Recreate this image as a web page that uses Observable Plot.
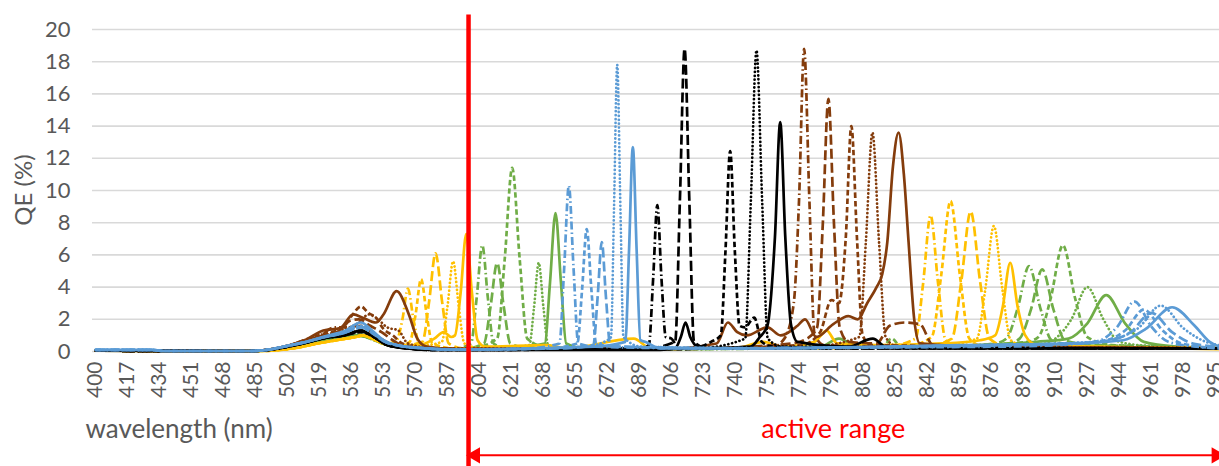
<!DOCTYPE html>
<html><head><meta charset="utf-8">
<script src="https://cdn.jsdelivr.net/npm/d3@7"></script>
<script src="https://cdn.jsdelivr.net/npm/@observablehq/plot@0.6"></script>
<style>
body{margin:0;background:#fff;}
#wrap{position:relative;width:1219px;height:466px;overflow:hidden;}
#ylabel{position:absolute;left:23px;top:190px;transform:translate(-50%,-50%) rotate(-90deg);font-family:Lato,'Open Sans',sans-serif;font-size:24px;color:#595959;white-space:nowrap;line-height:1;}
</style></head><body><div id="wrap"><div id="chart"></div><div id="ylabel">QE (%)</div></div>
<script>
// wavelength (nm), QE (%) pairs
const greenDashDot = [[400,0.05],[482,0.03],[495,0.1],[505,0.3],[515,0.55],[525,0.75],[535,0.9],[541,1.0],[548,0.75],[555,0.4],[565,0.25],[580,0.15],[590,0.15],[599.5,0.5],[602.5,3.3],[605.5,6.6],[608.5,3.3],[611.5,0.5],[618,0.2],[660,0.2],[720,0.15],[800,0.25],[850,0.3],[878,0.5],[884,0.8],[890,2.7],[896,5.3],[902,2.7],[908,0.7],[920,0.4],[960,0.3],[997,0.2]];
const greenLongDash = [[400,0.05],[482,0.03],[495,0.1],[505,0.28],[515,0.5],[525,0.7],[535,0.85],[541,0.95],[548,0.7],[555,0.4],[565,0.25],[580,0.15],[595,0.15],[606.4,0.5],[609.9,2.8],[613.4,5.5],[616.9,2.8],[620.4,0.5],[630,0.2],[700,0.15],[800,0.3],[860,0.35],[885,0.5],[891,0.8],[897,2.6],[903,5.1],[909,2.6],[915,0.7],[930,0.4],[970,0.3],[997,0.2]];
const greenDash = [[400,0.05],[482,0.03],[495,0.1],[505,0.3],[515,0.55],[525,0.75],[535,0.9],[541,1.0],[548,0.75],[555,0.4],[565,0.25],[580,0.15],[600,0.2],[613.4,0.8],[617.4,5.7],[621.4,11.4],[625.4,5.7],[629.4,0.8],[640,0.25],[700,0.15],[800,0.3],[818,0.3],[823,0.8],[828,0.3],[870,0.4],[895,0.6],[901,0.9],[907.5,3.3],[914,6.6],[920.5,3.3],[927,0.9],[940,0.4],[997,0.25]];
const greenDot = [[400,0.05],[482,0.03],[495,0.1],[505,0.3],[515,0.5],[525,0.7],[535,0.85],[541,0.95],[548,0.7],[555,0.4],[565,0.25],[580,0.15],[615,0.2],[630.5,0.4],[633,2.75],[635.5,5.5],[638,2.75],[640.5,0.4],[650,0.2],[720,0.15],[800,0.3],[880,0.4],[905,0.5],[910,0.8],[918.5,2.0],[927,4.0],[935.5,2.0],[944,0.6],[960,0.35],[997,0.25]];
const greenSolid = [[400,0.05],[482,0.03],[495,0.1],[505,0.3],[515,0.55],[525,0.8],[535,0.95],[541,1.05],[548,0.8],[555,0.45],[565,0.25],[580,0.15],[625,0.3],[638.7,0.5],[641.5,4.3],[644.4,8.6],[647.3,4.3],[650.1,0.5],[660,0.2],[720,0.2],[785,0.3],[795,0.8],[805,0.3],[870,0.4],[900,0.6],[917,0.8],[927,1.75],[937,3.5],[947,1.75],[957,0.6],[975,0.3],[997,0.2]];

const blueDashDot = [[400,0.1],[430,0.1],[436,0.03],[482,0.03],[492,0.12],[502,0.35],[512,0.6],[522,0.9],[532,1.15],[541,1.5],[547,1.15],[553,0.65],[562,0.35],[575,0.2],[590,0.12],[630,0.2],[646.5,0.5],[649,5.15],[651.5,10.3],[654,5.15],[656.5,0.5],[665,0.3],[720,0.2],[800,0.25],[880,0.3],[925,0.5],[934,0.7],[943,1.55],[952,3.1],[961,1.55],[970,0.6],[985,0.3],[997,0.2]];
const blueDash = [[400,0.1],[430,0.1],[436,0.03],[482,0.03],[492,0.12],[502,0.35],[512,0.6],[522,0.9],[532,1.15],[541,1.5],[547,1.15],[553,0.65],[562,0.35],[575,0.2],[590,0.12],[640,0.2],[656,0.5],[658.5,3.8],[661,7.6],[663.5,3.8],[666,0.5],[675,0.3],[740,0.2],[850,0.3],[920,0.5],[937,0.7],[947,1.3],[957,2.6],[967,1.3],[977,0.5],[997,0.2]];
const blueLongDash = [[400,0.1],[430,0.1],[436,0.03],[482,0.03],[492,0.12],[502,0.35],[512,0.6],[522,0.9],[532,1.15],[541,1.55],[547,1.2],[553,0.65],[562,0.35],[575,0.2],[590,0.12],[650,0.2],[664.5,0.4],[666.8,3.4],[669,6.8],[671.2,3.4],[673.5,0.4],[680,0.3],[750,0.2],[850,0.35],[920,0.5],[939,0.7],[950,1.2],[961,2.4],[972,1.2],[983,0.5],[997,0.3]];
const blueDot = [[400,0.1],[430,0.1],[436,0.03],[482,0.03],[492,0.12],[502,0.35],[512,0.6],[522,0.92],[532,1.2],[541,1.6],[547,1.2],[553,0.7],[562,0.35],[575,0.2],[590,0.12],[660,0.3],[672,0.7],[673.9,0.9],[675.5,8.9],[677.2,17.8],[678.9,8.9],[680.5,0.9],[690,0.3],[760,0.2],[860,0.35],[930,0.6],[942,0.8],[954,1.45],[966,2.85],[978,1.45],[990,0.6],[997,0.4]];
const blueSolid = [[400,0.1],[430,0.1],[436,0.03],[482,0.03],[492,0.12],[502,0.35],[512,0.6],[522,0.95],[532,1.25],[541,1.8],[547,1.3],[553,0.7],[562,0.35],[575,0.2],[590,0.12],[665,0.3],[681.5,0.6],[683.5,6.35],[685.5,12.7],[687.5,6.35],[689.5,0.7],[692,0.6],[700,0.2],[760,0.2],[860,0.4],[920,0.5],[946,0.7],[958,1.4],[972,2.75],[984,1.6],[992,0.6],[997,0.3]];

const blackDashDot = [[400,0.05],[482,0.03],[492,0.1],[502,0.3],[512,0.55],[522,0.85],[532,1.0],[541,1.3],[548,0.9],[555,0.4],[565,0.2],[580,0.1],[600,0.1],[690,0.2],[694,0.4],[696.3,4.55],[698.5,9.1],[700.7,4.55],[703,0.9],[706,0.8],[710,0.2],[760,0.2],[850,0.2],[997,0.2]];
const blackLongDash = [[400,0.05],[482,0.03],[492,0.1],[502,0.3],[512,0.55],[522,0.85],[532,1.0],[541,1.25],[548,0.9],[555,0.4],[565,0.2],[580,0.1],[690,0.15],[708,0.6],[710.5,9.4],[713,18.8],[715.5,9.4],[718,0.6],[725,0.2],[800,0.2],[997,0.2]];
const blackDash = [[400,0.05],[482,0.03],[492,0.1],[502,0.3],[512,0.55],[522,0.85],[532,1.0],[541,1.2],[548,0.9],[555,0.4],[565,0.2],[580,0.1],[715,0.15],[727,0.6],[732.2,1.0],[734.7,6.2],[737.2,12.45],[739.7,6.2],[742.2,1.6],[745,1.5],[750,2.1],[754,0.6],[760,0.3],[800,0.2],[997,0.2]];
const blackDot = [[400,0.05],[482,0.03],[492,0.1],[502,0.3],[512,0.55],[522,0.85],[532,1.0],[541,1.3],[548,0.9],[555,0.4],[565,0.2],[580,0.1],[720,0.2],[745.2,0.8],[748.2,9.35],[751.2,18.7],[754.2,9.35],[757.2,0.8],[765,0.3],[997,0.2]];
const blackSolid = [[400,0.05],[482,0.03],[492,0.1],[502,0.3],[512,0.55],[522,0.85],[532,1.0],[541,1.3],[548,0.9],[555,0.4],[565,0.2],[580,0.1],[600,0.1],[700,0.1],[708,0.2],[711,0.9],[713.5,1.8],[716,0.9],[720,0.3],[725,0.2],[748,0.3],[753,0.9],[757,1.6],[761,7.1],[763.8,14.25],[766.5,7.1],[769.5,1.7],[773,0.6],[800,0.3],[813,0.8],[820,0.3],[860,0.2],[997,0.2]];

const brownDashDot = [[400,0.05],[482,0.03],[492,0.12],[502,0.35],[510,0.65],[518,0.9],[527,1.5],[533,1.5],[541,1.6],[548,1.1],[556,0.5],[565,0.2],[600,0.15],[700,0.15],[760,0.3],[766,0.8],[771,3.0],[773.8,9.4],[776.5,18.8],[779.3,9.4],[782,1.1],[787,0.4],[820,0.3],[997,0.2]];
const brownLongDash = [[400,0.05],[482,0.03],[492,0.12],[502,0.35],[512,0.7],[521,1.0],[530,1.3],[535,1.9],[540,2.0],[546,1.6],[552,1.2],[558,0.7],[565,0.3],[600,0.15],[720,0.2],[770,0.5],[778,0.8],[783.4,1.5],[786.4,7.85],[789.4,15.7],[792.4,7.85],[795.4,1.5],[800,0.6],[815,0.5],[822,1.6],[830,1.8],[838,1.7],[845,0.4],[997,0.2]];
const brownDash = [[400,0.05],[482,0.03],[492,0.12],[502,0.35],[512,0.75],[521,1.1],[530,1.4],[536,2.2],[541,2.8],[545,2.4],[549,2.1],[553,1.4],[558,1.0],[563,0.5],[575,0.2],[600,0.15],[720,0.2],[775,0.4],[785,1.2],[791,3.2],[795,3.0],[798.6,7.0],[801.6,14.0],[804.6,7.0],[807.6,1.0],[812,0.4],[997,0.2]];
const brownDot = [[400,0.05],[482,0.03],[492,0.12],[502,0.35],[512,0.7],[521,1.0],[530,1.3],[540,1.8],[545,2.3],[549,2.1],[555,1.5],[561,1.3],[566,0.5],[580,0.2],[700,0.2],[780,0.3],[805.8,0.9],[809.3,6.8],[812.8,13.6],[816.3,6.8],[819.8,0.9],[826,0.3],[997,0.2]];
const brownSolid = [[400,0.05],[482,0.03],[492,0.12],[502,0.35],[512,0.75],[521,1.3],[530,1.45],[537,2.3],[542,2.1],[549,1.8],[553,2.3],[560,3.75],[566.5,2.3],[571,0.8],[576,0.3],[590,0.15],[700,0.15],[730,0.5],[736,1.8],[741,1.2],[746,1.0],[757,1.5],[764,1.0],[773,1.6],[777,2.0],[783,0.9],[792,1.7],[800,2.2],[805,2.0],[810,3.0],[815,4.0],[818,4.8],[820.7,6.8],[823.7,11.5],[826.7,13.6],[829.5,11.0],[832,6.8],[835,2.0],[838,0.5],[870,0.3],[997,0.2]];

const yellowDashDot = [[400,0.05],[485,0.03],[498,0.1],[508,0.25],[518,0.5],[528,0.7],[538,0.9],[542,1.0],[549,0.7],[555,0.5],[560,0.7],[563,1.95],[566,3.9],[569,1.95],[572,0.5],[580,0.2],[620,0.15],[760,0.2],[820,0.3],[835.7,0.8],[839.7,4.2],[843.7,8.45],[847.7,4.2],[851.7,0.7],[860,0.3],[997,0.2]];
const yellowDash = [[400,0.05],[485,0.03],[498,0.1],[508,0.25],[518,0.5],[528,0.7],[538,0.9],[542,1.0],[549,0.7],[556,0.4],[562,0.4],[567,0.6],[570,2.25],[573,4.5],[576,2.25],[579,0.5],[590,0.2],[760,0.2],[830,0.3],[844.3,0.9],[849.3,4.7],[854.3,9.35],[859.3,4.7],[864.3,0.8],[872,0.3],[997,0.25]];
const yellowLongDash = [[400,0.05],[485,0.03],[498,0.1],[508,0.25],[518,0.5],[528,0.7],[538,0.9],[542,1.0],[549,0.7],[556,0.4],[565,0.4],[573.7,0.6],[577.2,3.05],[580.7,6.1],[584.2,3.05],[587.7,0.5],[595,0.2],[760,0.2],[840,0.3],[855,0.8],[860,4.35],[865,8.7],[870,4.35],[875,0.8],[885,0.3],[997,0.25]];
const yellowDot = [[400,0.05],[485,0.03],[498,0.1],[508,0.25],[518,0.5],[528,0.7],[538,0.9],[542,1.0],[549,0.7],[556,0.4],[575,0.4],[584,0.6],[587,2.8],[590,5.6],[593,2.8],[596,0.5],[605,0.2],[760,0.2],[850,0.35],[868.3,0.8],[872.8,3.9],[877.3,7.8],[881.8,3.9],[886.3,0.7],[895,0.3],[997,0.25]];
const yellowSolid = [[400,0.05],[485,0.03],[498,0.1],[508,0.25],[518,0.5],[528,0.7],[538,0.9],[542,1.0],[549,0.7],[556,0.4],[572,0.4],[580,0.8],[585,1.2],[589,0.9],[591,1.0],[594,3.65],[597,7.3],[600,3.65],[603,0.7],[607,0.3],[640,0.4],[650,0.2],[686,0.8],[695,0.2],[740,0.2],[755,0.6],[765,0.3],[782,0.6],[788.5,1.3],[794,0.5],[815,0.4],[850,0.5],[870,0.7],[878,1.0],[882,2.75],[886,5.5],[890,2.75],[894,1.0],[900,0.4],[930,0.3],[997,0.15]];

const xTicks = [400,417,434,451,468,485,502,519,536,553,570,587,604,621,638,655,672,689,706,723,740,757,774,791,808,825,842,859,876,893,910,927,944,961,978,995];
const yTicks = [0,2,4,6,8,10,12,14,16,18,20];
const activeStart = 598.2;   // nm, red marker line
const activeEnd = 997;

const GREEN = "#70AD47", BLUE = "#5B9BD5", BLACK = "#000000", BROWN = "#843C0C", YELLOW = "#FFC000";
const series = [
  [greenDashDot, GREEN, "dashdot"], [greenLongDash, GREEN, "longdash"], [greenDash, GREEN, "dash"], [greenDot, GREEN, "dot"], [greenSolid, GREEN, "solid"],
  [yellowDashDot, YELLOW, "dashdot"], [yellowDash, YELLOW, "dash"], [yellowLongDash, YELLOW, "longdash"], [yellowDot, YELLOW, "dot"], [yellowSolid, YELLOW, "solid"],
  [brownDashDot, BROWN, "dashdot"], [brownLongDash, BROWN, "longdash"], [brownDash, BROWN, "dash"], [brownDot, BROWN, "dot"], [brownSolid, BROWN, "solid"],
  [blackDashDot, BLACK, "dashdot"], [blackLongDash, BLACK, "longdash"], [blackDash, BLACK, "dash"], [blackDot, BLACK, "dot"], [blackSolid, BLACK, "solid"],
  [blueDashDot, BLUE, "dashdot"], [blueDash, BLUE, "dash"], [blueLongDash, BLUE, "longdash"], [blueDot, BLUE, "dot"], [blueSolid, BLUE, "solid"]
];
const dashes = {solid: null, dot: "0.1,3.8", dash: "5.5,3", longdash: "10,4", dashdot: "8,3,1.5,3"};

const lineMarks = series.map(([data, color, style]) => Plot.line(data, {
  x: d => d[0], y: d => d[1], stroke: color, strokeWidth: 2.7,
  strokeDasharray: dashes[style], strokeLinecap: style === "dot" ? "round" : "butt",
  curve: "monotone-x"
}));

const RED = "#FF0000";
const chart = Plot.plot({
  width: 1219, height: 466,
  marginLeft: 95, marginRight: 0, marginTop: 29, marginBottom: 115,
  x: {domain: [400, 997.2]},
  y: {domain: [0, 20]},
  style: {fontFamily: "Lato, 'Open Sans', sans-serif", color: "#595959", background: "#fff", overflow: "visible"},
  marks: [
    Plot.ruleY(yTicks, {stroke: "#d9d9d9", strokeWidth: 1.6, x1: 398.4, x2: 997.2}),
    ...lineMarks,
    Plot.axisY(yTicks, {tickSize: 0, tickPadding: 25, fontSize: 22, label: null}),
    Plot.axisX(xTicks, {tickSize: 0, tickPadding: 10, tickRotate: -90, fontSize: 21, label: null}),
    Plot.text(["wavelength (nm)"], {text: d => d, frameAnchor: "bottom-left", dx: -10, dy: 86, textAnchor: "start", fontSize: 26, fill: "#595959"}),
    Plot.ruleX([activeStart], {y1: -7.3, y2: 20.9, stroke: RED, strokeWidth: 4.5}),
    Plot.ruleY([-6.45], {x1: activeStart + 2, x2: activeEnd - 2, stroke: RED, strokeWidth: 2}),
    Plot.dot([[activeStart + 3.6, -90], [activeEnd - 1.5, 90]], {x: d => d[0], y: -6.45, rotate: d => d[1], symbol: "triangle", r: 6, fill: RED, stroke: null}),
    Plot.text(["active range"], {text: d => d, x: 792, frameAnchor: "bottom", dy: 86, fontSize: 27, fill: RED})
  ]
});
document.getElementById("chart").appendChild(chart);
</script></body></html>
